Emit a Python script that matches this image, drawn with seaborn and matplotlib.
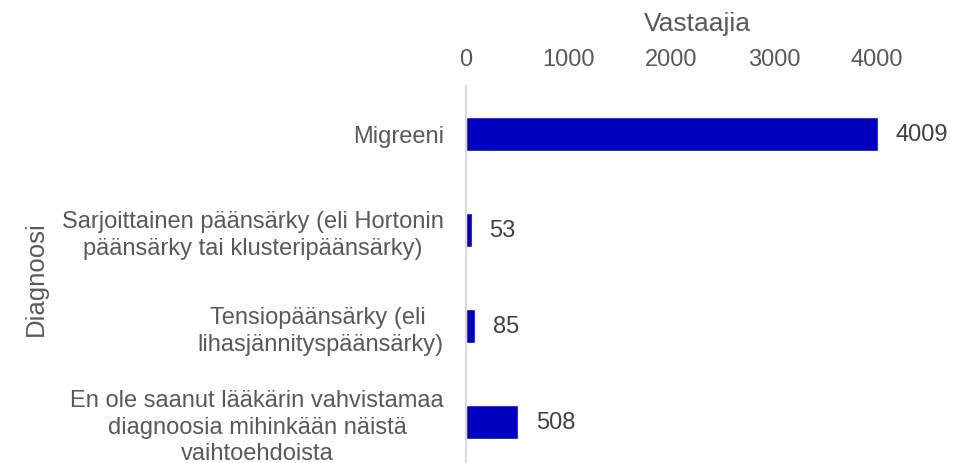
import matplotlib
matplotlib.use('Agg')
import matplotlib.pyplot as plt
import seaborn as sns
import pandas as pd

diagnoses = [
    'Migreeni',
    'Sarjoittainen päänsärky (eli Hortonin\npäänsärky tai klusteripäänsärky)',
    'Tensiopäänsärky (eli \nlihasjännityspäänsärky)',
    'En ole saanut lääkärin vahvistamaa\ndiagnoosia mihinkään näistä\nvaihtoehdoista',
]
respondents = [4009, 53, 85, 508]
x_ticks = [0, 1000, 2000, 3000, 4000]

df = pd.DataFrame({'Diagnoosi': diagnoses, 'Vastaajia': respondents})

sns.set_style('white')
plt.rcParams['font.family'] = ['Liberation Sans', 'DejaVu Sans']

text_col = '#595959'
fig = plt.figure(figsize=(9.71, 4.64), dpi=100)
ax = fig.add_axes([0.48, -0.015, 0.476, 0.828])

sns.barplot(data=df, y='Diagnoosi', x='Vastaajia', orient='h',
            color='#0000C0', saturation=1, width=0.35, ax=ax)

for i, v in enumerate(respondents):
    ax.annotate(str(v), (v, i), xytext=(13, 0), textcoords='offset points',
                va='center', ha='left', fontsize=17, color='#404040')

ax.set_xlim(0, 4500)
ax.set_ylim(3.5, -0.5)
ax.set_xticks(x_ticks)
ax.xaxis.tick_top()
ax.xaxis.set_label_position('top')
ax.set_xlabel('Vastaajia', fontsize=19, color=text_col, labelpad=13)
ax.set_ylabel('Diagnoosi', fontsize=18.5, color=text_col, labelpad=10)
ax.tick_params(axis='x', length=0, pad=11, labelsize=17, labelcolor=text_col)
ax.tick_params(axis='y', length=0, pad=16, labelsize=17, labelcolor=text_col)
for lbl in ax.get_yticklabels():
    lbl.set_multialignment('center')
    lbl.set_linespacing(1.25)

for side in ['top', 'right', 'bottom']:
    ax.spines[side].set_visible(False)
ax.spines['left'].set_color('#d9d9d9')
ax.spines['left'].set_linewidth(1.5)

fig.savefig('out.png', dpi=100)
